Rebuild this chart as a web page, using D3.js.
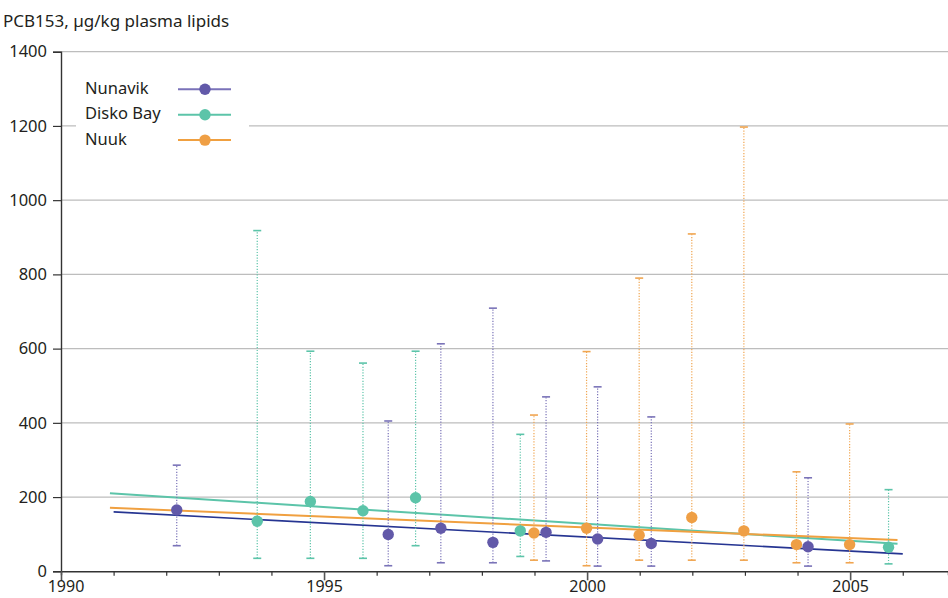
<!DOCTYPE html>
<html>
<head>
<meta charset="utf-8">
<script src="https://cdn.jsdelivr.net/npm/d3@7"></script>
<style>
  html, body { margin: 0; padding: 0; background: #fff; }
  svg { display: block; font-family: "Noto Sans", "Open Sans", sans-serif; }
</style>
</head>
<body>
<svg id="chart" width="948" height="598"></svg>
<script>
// PCB153 in plasma lipids (µg/kg): geometric mean with range, by region and year
const seriesNames = ["Nunavik", "Disko Bay", "Nuuk"];

const nunavikYears = [1992.2, 1996.22, 1997.22, 1998.21, 1999.22, 2000.2, 2001.22, 2004.2];
const nunavikMean  = [165, 99, 116, 78, 105, 87, 75, 66];
const nunavikLow   = [69, 15, 23, 23, 28, 14, 14, 14];
const nunavikHigh  = [286, 405, 613, 709, 470, 497, 416, 252];

const diskoYears = [1993.73, 1994.74, 1995.74, 1996.74, 1998.73, 2005.73];
const diskoMean  = [135, 188, 163, 198, 109, 65];
const diskoLow   = [35, 35, 35, 69, 40, 20];
const diskoHigh  = [918, 593, 561, 593, 369, 220];

const nuukYears = [1998.99, 1999.99, 2000.99, 2001.99, 2002.98, 2003.98, 2004.99];
const nuukMean  = [103, 116, 97, 145, 109, 72, 72];
const nuukLow   = [30, 15, 30, 30, 30, 23, 23];
const nuukHigh  = [421, 592, 790, 909, 1197, 268, 397];

// Fitted trend lines: [start year, end year] and fitted values at those ends
const nunavikTrendYears = [1991.0, 2006.0];
const nunavikTrend      = [160, 47];
const diskoTrendYears   = [1990.93, 2005.9];
const diskoTrend        = [210, 74];
const nuukTrendYears    = [1990.93, 2005.9];
const nuukTrend         = [171, 84];

const yTicks = [0, 200, 400, 600, 800, 1000, 1200, 1400];
const xTicks = d3.range(1990, 2007);
const xLabels = [1990, 1995, 2000, 2005];

const series = [
  { name: seriesNames[0], years: nunavikYears, mean: nunavikMean, low: nunavikLow, high: nunavikHigh,
    tYears: nunavikTrendYears, trend: nunavikTrend,
    dot: "#6259a9", bar: "#7a73b8", trendColor: "#263592", legendLine: "#7a72b9" },
  { name: seriesNames[1], years: diskoYears, mean: diskoMean, low: diskoLow, high: diskoHigh,
    tYears: diskoTrendYears, trend: diskoTrend,
    dot: "#5cc4a9", bar: "#5cc4a9", trendColor: "#5cc4a9", legendLine: "#5cc4a9" },
  { name: seriesNames[2], years: nuukYears, mean: nuukMean, low: nuukLow, high: nuukHigh,
    tYears: nuukTrendYears, trend: nuukTrend,
    dot: "#ef9f45", bar: "#f0a550", trendColor: "#f0a040", legendLine: "#f0a040" }
];

const svg = d3.select("#chart");
const x = d3.scaleLinear().domain([1990, 2006.86]).range([61, 948]);
const y = d3.scaleLinear().domain([0, 1400]).range([571.3, 51.7]);

// Horizontal gridlines
svg.append("g")
  .selectAll("line")
  .data(yTicks.filter(d => d > 0))
  .join("line")
  .attr("x1", x(1990)).attr("x2", 948)
  .attr("y1", d => y(d)).attr("y2", d => y(d))
  .attr("stroke", "#bdbdbd").attr("stroke-width", 1.2);

// Y axis
const yAxis = svg.append("g")
  .attr("transform", `translate(${x(1990)},0)`)
  .call(d3.axisLeft(y).tickValues(yTicks).tickSize(8).tickPadding(6).tickFormat(d3.format("d")));
yAxis.select(".domain").attr("stroke", "#333").attr("stroke-width", 1.4);
yAxis.selectAll(".tick line").attr("stroke", "#333").attr("stroke-width", 1.2);
yAxis.selectAll(".tick text").attr("fill", "#231f20").style("font-size", "16.5px")
  .style("font-family", "'Noto Sans', sans-serif");

// X axis
const xAxis = svg.append("g")
  .attr("transform", `translate(0,${y(0)})`)
  .call(d3.axisBottom(x).tickValues(xTicks).tickSizeOuter(0).tickSize(4)
    .tickFormat(d => xLabels.includes(d) ? d : ""));
xAxis.select(".domain").attr("stroke", "#333").attr("stroke-width", 1.4);
xAxis.selectAll(".tick line")
  .attr("stroke", d => xLabels.includes(d) ? "#555" : "#333")
  .attr("stroke-width", d => xLabels.includes(d) ? 1.6 : 1.2)
  .attr("y2", d => xLabels.includes(d) ? 9 : 4.5);
xAxis.selectAll(".tick text").attr("fill", "#231f20").attr("y", 9).style("font-size", "16px")
  .attr("dx", d => d === 1990 ? 4.5 : 0)   // first label nudged clear of the "0"
  .style("font-family", "'Noto Sans', sans-serif");

// Title
svg.append("text")
  .attr("x", 3).attr("y", 27)
  .attr("fill", "#231f20").style("font-size", "17px")
  .text("PCB153, µg/kg plasma lipids");

// Trend lines
const trendLine = d3.line().x(d => x(d[0])).y(d => y(d[1]));
series.forEach(s => {
  svg.append("path")
    .datum(s.tYears.map((t, i) => [t, s.trend[i]]))
    .attr("d", trendLine)
    .attr("fill", "none")
    .attr("stroke", s.trendColor)
    .attr("stroke-width", s.name === "Nunavik" ? 1.6 : 2);
});

// Range bars with caps, then mean points
series.forEach(s => {
  const g = svg.append("g");
  const rows = s.years.map((t, i) => ({ t, m: s.mean[i], lo: s.low[i], hi: s.high[i] }));
  g.selectAll("line.range").data(rows).join("line").attr("class", "range")
    .attr("x1", d => x(d.t)).attr("x2", d => x(d.t))
    .attr("y1", d => y(d.lo)).attr("y2", d => y(d.hi))
    .attr("stroke", s.bar).attr("stroke-width", 1.2).attr("stroke-dasharray", "1.2,1.6");
  ["lo", "hi"].forEach(k => {
    g.selectAll("line.cap-" + k).data(rows).join("line").attr("class", "cap-" + k)
      .attr("x1", d => x(d.t) - 4).attr("x2", d => x(d.t) + 4)
      .attr("y1", d => y(d[k])).attr("y2", d => y(d[k]))
      .attr("stroke", s.bar).attr("stroke-width", 1.6);
  });
  g.selectAll("circle").data(rows).join("circle")
    .attr("cx", d => x(d.t)).attr("cy", d => y(d.m)).attr("r", 5.7)
    .attr("fill", s.dot);
});

// Legend
const legend = svg.append("g");
legend.append("rect").attr("x", 76).attr("y", 66).attr("width", 173).attr("height", 90).attr("fill", "#fff");
series.forEach((s, i) => {
  const ly = 89.3 + i * 25.4;
  legend.append("text").attr("x", 85).attr("y", ly + 3).attr("dy", "0.1em")
    .attr("fill", "#231f20").style("font-size", "16.5px").text(s.name);
  legend.append("line").attr("x1", 178).attr("x2", 231).attr("y1", ly).attr("y2", ly)
    .attr("stroke", s.legendLine).attr("stroke-width", 2);
  legend.append("circle").attr("cx", 205).attr("cy", ly).attr("r", 5.7).attr("fill", s.dot);
});
</script>
</body>
</html>
